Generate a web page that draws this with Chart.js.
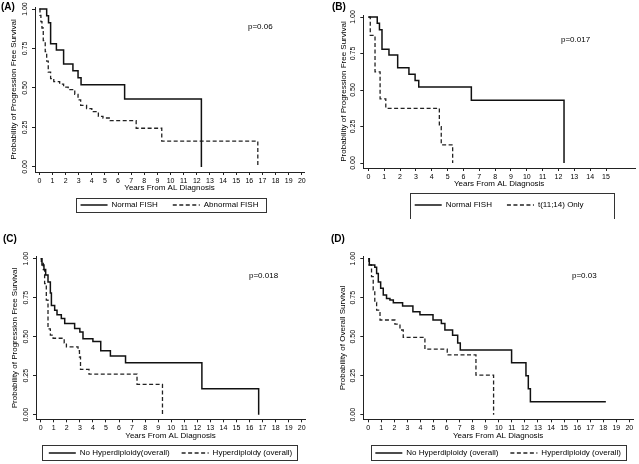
<!DOCTYPE html>
<html lang="en">
<head>
<meta charset="UTF-8">
<title>Survival by FISH group</title>
<script src="https://cdn.jsdelivr.net/npm/chart.js"></script>
<style>
  body {
    margin: 0;
    width: 639px;
    height: 464px;
    overflow: hidden;
    position: relative;
    background: #fff;
    font-family: "Liberation Sans", Arial, sans-serif;
    color: #000;
  }
  canvas { position: absolute; }
  .tag { position: absolute; font-size: 10px; line-height: 10px; font-weight: bold; }
  .pval { position: absolute; font-size: 8px; line-height: 8px; }
</style>
</head>
<body>
<canvas id="chartA" width="320" height="219" style="left:0;top:0"></canvas>
<canvas id="chartB" width="319" height="219" style="left:320px;top:0"></canvas>
<canvas id="chartC" width="320" height="235" style="left:0;top:232px"></canvas>
<canvas id="chartD" width="319" height="235" style="left:320px;top:232px"></canvas>

<div class="tag" style="left:1px;top:2px">(A)</div>
<div class="tag" style="left:332px;top:2px">(B)</div>
<div class="tag" style="left:3px;top:234px">(C)</div>
<div class="tag" style="left:331px;top:234px">(D)</div>

<div class="pval" style="left:248px;top:23px">p=0.06</div>
<div class="pval" style="left:561px;top:36px">p=0.017</div>
<div class="pval" style="left:249px;top:272px">p=0.018</div>
<div class="pval" style="left:572px;top:272px">p=0.03</div>

<script>
  // tick values and labels
  const xTicks20 = [0, 1, 2, 3, 4, 5, 6, 7, 8, 9, 10, 11, 12, 13, 14, 15, 16, 17, 18, 19, 20];
  const xTickLabels20 = ['0', '1', '2', '3', '4', '5', '6', '7', '8', '9', '10', '11', '12', '13', '14', '15', '16', '17', '18', '19', '20'];
  const xTicks15 = [0, 1, 2, 3, 4, 5, 6, 7, 8, 9, 10, 11, 12, 13, 14, 15];
  const xTickLabels15 = ['0', '1', '2', '3', '4', '5', '6', '7', '8', '9', '10', '11', '12', '13', '14', '15'];
  const yTicks = [0, 0.25, 0.5, 0.75, 1];
  const yTickLabels = ['0.00', '0.25', '0.50', '0.75', '1.00'];

  // (A)/(B) normal FISH, progression free survival
  const normalFishTime = [0, 0.56, 0.7, 0.86, 1.3, 1.85, 2.56, 2.95, 3.18, 6.5, 12.35];
  const normalFishSurv = [1, 0.957, 0.913, 0.78, 0.74, 0.652, 0.609, 0.565, 0.52, 0.43, 0];

  // (A) abnormal FISH
  const abnormalFishTime = [0, 0.05, 0.12, 0.2, 0.3, 0.45, 0.56, 0.68, 0.86, 1.1, 1.55, 1.85, 2.2, 2.7, 2.95, 3.15, 3.6, 4.0, 4.5, 4.85, 5.4, 7.38, 9.33, 16.65];
  const abnormalFishSurv = [1, 0.96, 0.92, 0.88, 0.8, 0.73, 0.67, 0.6, 0.56, 0.54, 0.525, 0.505, 0.49, 0.46, 0.425, 0.39, 0.37, 0.35, 0.32, 0.31, 0.293, 0.245, 0.163, 0];

  // (B) t(11;14) only
  const t1114Time = [0, 0.12, 0.42, 0.74, 1.1, 4.48, 4.6, 5.32];
  const t1114Surv = [1, 0.875, 0.625, 0.44, 0.375, 0.25, 0.125, 0];

  // (C) progression free survival by hyperdiploidy
  const noHyperPfsTime = [0, 0.1, 0.25, 0.38, 0.56, 0.74, 0.82, 1.07, 1.25, 1.58, 1.84, 2.6, 3.0, 3.24, 4.0, 4.6, 5.34, 6.5, 12.35, 16.7];
  const noHyperPfsSurv = [1, 0.96, 0.93, 0.895, 0.85, 0.78, 0.7, 0.67, 0.64, 0.617, 0.585, 0.553, 0.53, 0.487, 0.47, 0.41, 0.376, 0.333, 0.167, 0];
  const hyperPfsTime = [0, 0.05, 0.2, 0.3, 0.43, 0.56, 0.74, 0.95, 1.8, 1.97, 2.86, 2.97, 3.05, 3.7, 7.38, 9.33];
  const hyperPfsSurv = [1, 0.97, 0.93, 0.84, 0.735, 0.55, 0.51, 0.49, 0.46, 0.435, 0.41, 0.37, 0.29, 0.26, 0.195, 0];

  // (D) overall survival by hyperdiploidy
  const noHyperOsTime = [0, 0.08, 0.5, 0.64, 0.77, 0.95, 1.15, 1.4, 1.66, 1.92, 2.63, 3.42, 3.96, 4.96, 5.6, 5.87, 6.46, 6.85, 7.05, 10.98, 12.08, 12.26, 12.42, 18.2];
  const noHyperOsSurv = [1, 0.96, 0.945, 0.905, 0.85, 0.81, 0.767, 0.745, 0.735, 0.718, 0.697, 0.66, 0.64, 0.607, 0.585, 0.543, 0.51, 0.46, 0.415, 0.333, 0.25, 0.167, 0.083, 0.083];
  const hyperOsTime = [0, 0.05, 0.25, 0.38, 0.5, 0.64, 0.9, 2.04, 2.43, 2.68, 4.34, 6.05, 8.25, 9.6];
  const hyperOsSurv = [1, 0.96, 0.885, 0.8, 0.72, 0.67, 0.607, 0.58, 0.543, 0.496, 0.42, 0.383, 0.254, 0];

  const FONT = '"Liberation Sans", Arial, sans-serif';
  Chart.defaults.font.family = FONT;
  Chart.defaults.color = '#000';
  Chart.defaults.animation = false;

  function kmDataset(label, time, surv, dashed) {
    return {
      label: label,
      data: time.map((t, i) => ({ x: t, y: surv[i] })),
      stepped: true,
      borderColor: dashed ? '#222' : '#111',
      borderWidth: dashed ? 1.3 : 1.5,
      borderDash: dashed ? [4, 2.5] : [],
      pointRadius: 0,
      fill: false,
      tension: 0
    };
  }

  // legend items take their stroke from the dataset line (point style would drop the dash)
  function kmLegendLabels(chart) {
    const items = Chart.defaults.plugins.legend.labels.generateLabels(chart);
    return items.map(item => {
      const ds = chart.data.datasets[item.datasetIndex];
      item.lineDash = ds.borderDash;
      item.strokeStyle = ds.borderColor;
      item.lineWidth = ds.borderWidth;
      item.pointStyle = 'line';
      return item;
    });
  }

  // rotated y tick labels + frame around the legend
  const kmDecor = {
    id: 'kmDecor',
    afterDraw(chart, args, opts) {
      const ctx = chart.ctx;
      const ys = chart.scales.y;
      ctx.save();
      ctx.fillStyle = '#000';
      ctx.font = '7px ' + FONT;
      ctx.textAlign = 'center';
      ctx.textBaseline = 'middle';
      yTicks.forEach((v, i) => {
        ctx.save();
        ctx.translate(ys.right - 10, ys.getPixelForValue(v));
        ctx.rotate(-Math.PI / 2);
        ctx.fillText(yTickLabels[i], 0, 0);
        ctx.restore();
      });

      const boxes = chart.legend.legendHitBoxes;
      const first = boxes[0];
      const last = boxes[boxes.length - 1];
      const cy = first.top + first.height / 2;
      const x0 = Math.round(first.left - opts.padL);
      const x1 = Math.round(last.left + last.width + opts.padR);
      const y0 = Math.round(cy - opts.up);
      const y1 = Math.round(cy + opts.down);
      ctx.strokeStyle = '#333';
      ctx.lineWidth = 1;
      ctx.setLineDash([]);
      ctx.strokeRect(x0 + 0.5, y0 + 0.5, x1 - x0, y1 - y0);
      ctx.restore();
    }
  };

  function makePanel(p) {
    const axisColor = '#222';
    // legend box height = font(8) + padding + 10; the x scale fills the rest down to it
    const xHeight = p.canvasH - 18 - p.legendPad - p.axisBottom;
    new Chart(document.getElementById(p.id), {
      type: 'line',
      data: { datasets: p.datasets },
      options: {
        responsive: false,
        devicePixelRatio: 1,
        layout: { padding: p.pad },
        plugins: {
          tooltip: { enabled: false },
          legend: {
            display: true,
            position: 'bottom',
            fullSize: false,
            labels: {
              usePointStyle: true,
              pointStyle: 'line',
              pointStyleWidth: 27,
              padding: p.legendPad,
              font: { size: 8 },
              color: '#000',
              generateLabels: kmLegendLabels
            }
          },
          kmDecor: p.legendBox
        },
        scales: {
          x: {
            type: 'linear',
            min: p.xMin,
            max: p.xMax,
            afterBuildTicks: s => { s.ticks = p.xTicks.map(v => ({ value: v })); },
            afterFit: s => { s.height = xHeight; },
            ticks: {
              autoSkip: false,
              maxRotation: 0,
              padding: 1.5,
              font: { size: 7 },
              color: '#000',
              callback: (v, i) => p.xTickLabels[i]
            },
            grid: { drawOnChartArea: false, drawTicks: true, tickLength: 3, color: axisColor },
            border: { display: true, color: axisColor, width: 1 },
            title: {
              display: true,
              text: 'Years From AL Diagnosis',
              font: { size: 8 },
              color: '#000',
              padding: { top: 0, bottom: xHeight - 4.8 - 16 }
            }
          },
          y: {
            type: 'linear',
            min: p.yMin,
            max: p.yMax,
            afterBuildTicks: s => { s.ticks = yTicks.map(v => ({ value: v })); },
            afterFit: s => { s.width = p.yWidth; },
            ticks: { display: false },
            grid: { drawOnChartArea: false, drawTicks: true, tickLength: 3, color: axisColor },
            border: { display: true, color: axisColor, width: 1 },
            title: {
              display: true,
              text: p.yTitle,
              font: { size: 8 },
              color: '#000',
              padding: { top: p.yTitleX - 4.8, bottom: 0 }
            }
          }
        }
      },
      plugins: [kmDecor]
    });
  }

  makePanel({
    id: 'chartA', canvasH: 219, axisBottom: 172, legendPad: 15,
    pad: { left: 0, top: 7, right: 16, bottom: 0 },
    yWidth: 35,
    xMin: -0.33, xMax: 20.17, yMin: -0.032, yMax: 1.013,
    xTicks: xTicks20, xTickLabels: xTickLabels20,
    yTitle: 'Probability of Progression Free Survival', yTitleX: 13.5,
    legendBox: { padL: 5, padR: 8, up: 7, down: 7 },
    datasets: [
      kmDataset('Normal FISH', normalFishTime, normalFishSurv, false),
      kmDataset('Abnormal FISH', abnormalFishTime, abnormalFishSurv, true)
    ]
  });

  makePanel({
    id: 'chartB', canvasH: 219, axisBottom: 168, legendPad: 15,
    pad: { left: 0, top: 15, right: 4, bottom: 0 },
    yWidth: 43.3,
    xMin: -0.32, xMax: 16.83, yMin: -0.034, yMax: 1.014,
    xTicks: xTicks15, xTickLabels: xTickLabels15,
    yTitle: 'Probability of Progression Free Survival', yTitleX: 24,
    legendBox: { padL: 5, padR: 30, up: 12, down: 15 },
    datasets: [
      kmDataset('Normal FISH', normalFishTime, normalFishSurv, false),
      kmDataset('t(11;14) Only', t1114Time, t1114Surv, true)
    ]
  });

  makePanel({
    id: 'chartC', canvasH: 235, axisBottom: 187.3, legendPad: 12,
    pad: { left: 0, top: 24.7, right: 15, bottom: 0 },
    yWidth: 36,
    xMin: -0.36, xMax: 20.25, yMin: -0.0295, yMax: 1.0128,
    xTicks: xTicks20, xTickLabels: xTickLabels20,
    yTitle: 'Probability of Progression Free Survival', yTitleX: 15,
    legendBox: { padL: 7, padR: 5, up: 7.7, down: 7.3 },
    datasets: [
      kmDataset('No Hyperdiploidy(overall)', noHyperPfsTime, noHyperPfsSurv, false),
      kmDataset('Hyperdiploidy (overall)', hyperPfsTime, hyperPfsSurv, true)
    ]
  });

  makePanel({
    id: 'chartD', canvasH: 235, axisBottom: 187.3, legendPad: 12,
    pad: { left: 0, top: 24.7, right: 6, bottom: 0 },
    yWidth: 43.3,
    xMin: -0.38, xMax: 20.28, yMin: -0.0295, yMax: 1.0128,
    xTicks: xTicks20, xTickLabels: xTickLabels20,
    yTitle: 'Probability of Overall Survival', yTitleX: 23,
    legendBox: { padL: 4, padR: 5, up: 7.7, down: 7.3 },
    datasets: [
      kmDataset('No Hyperdiploidy (overall)', noHyperOsTime, noHyperOsSurv, false),
      kmDataset('Hyperdiploidy (overall)', hyperOsTime, hyperOsSurv, true)
    ]
  });
</script>
</body>
</html>
